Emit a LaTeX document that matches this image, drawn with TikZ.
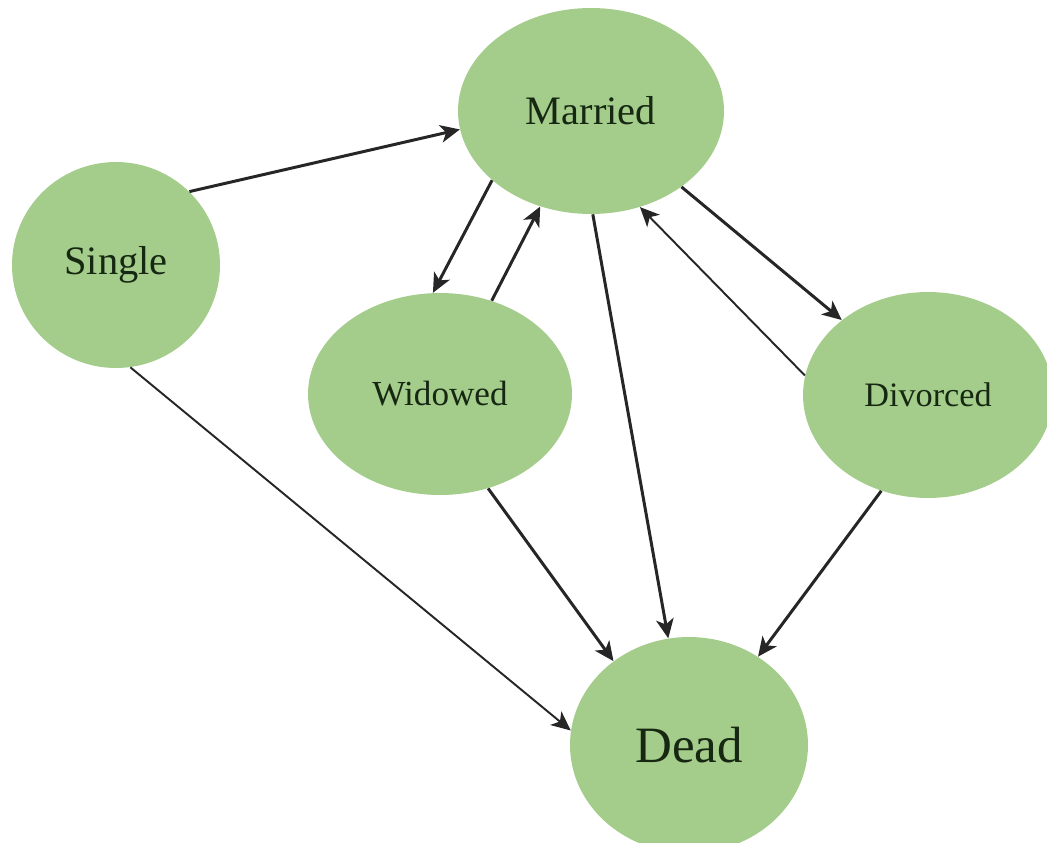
\documentclass[tikz,border=0pt]{standalone}
\usepackage{fontspec}
\setmainfont{Liberation Serif}
\usetikzlibrary{shapes,arrows.meta,positioning}
\definecolor{stategreen}{RGB}{164,204,138}
\definecolor{statetext}{RGB}{22,40,18}

\begin{document}
\begin{tikzpicture}[x=0.02cm, y=-0.02cm]
  \tikzstyle{state}=[ellipse, fill=stategreen, inner sep=0pt, text=statetext]
  \tikzstyle{trans}=[-{Stealth[length=11pt,width=10pt,inset=3pt]}, line width=1.7pt, draw=black!85]
  \tikzstyle{thintrans}=[trans, line width=1.1pt]

  \useasboundingbox (0,0) rectangle (1047,842);

  % states
  \node[state, minimum width=5.32cm, minimum height=4.12cm, font=\fontsize{23}{26}\selectfont] (married) at (591,111) {Married};
  \node[state, minimum width=4.16cm, minimum height=4.12cm, font=\fontsize{23}{26}\selectfont] (single) at (116,265) {Single};
  \node[state, minimum width=5.28cm, minimum height=4.04cm, font=\fontsize{20}{24}\selectfont] (widowed) at (440,394) {Widowed};
  \node[state, minimum width=5.0cm, minimum height=4.12cm, font=\fontsize{19.5}{23}\selectfont] (divorced) at (928,395) {Divorced};
  \node[state, minimum width=4.76cm, minimum height=4.32cm, font=\fontsize{29}{34}\selectfont] (dead) at (689,745) {Dead};

  % transitions
  \draw[trans] (single.45) -- (married.188);
  \draw[trans] (married.215) -- (widowed.94);
  \draw[trans] (widowed.61) -- (married.242);
  \draw[trans] (married.271) -- (dead.101);
  \draw[trans] (married.320) -- (divorced.139);
  \draw[thintrans] (divorced.171) -- (married.297);
  \draw[thintrans] (single.278) -- (dead.173);
  \draw[trans] (widowed.297) -- (dead.132);
  \draw[trans] (divorced.244) -- (dead.52);
\end{tikzpicture}
\end{document}
